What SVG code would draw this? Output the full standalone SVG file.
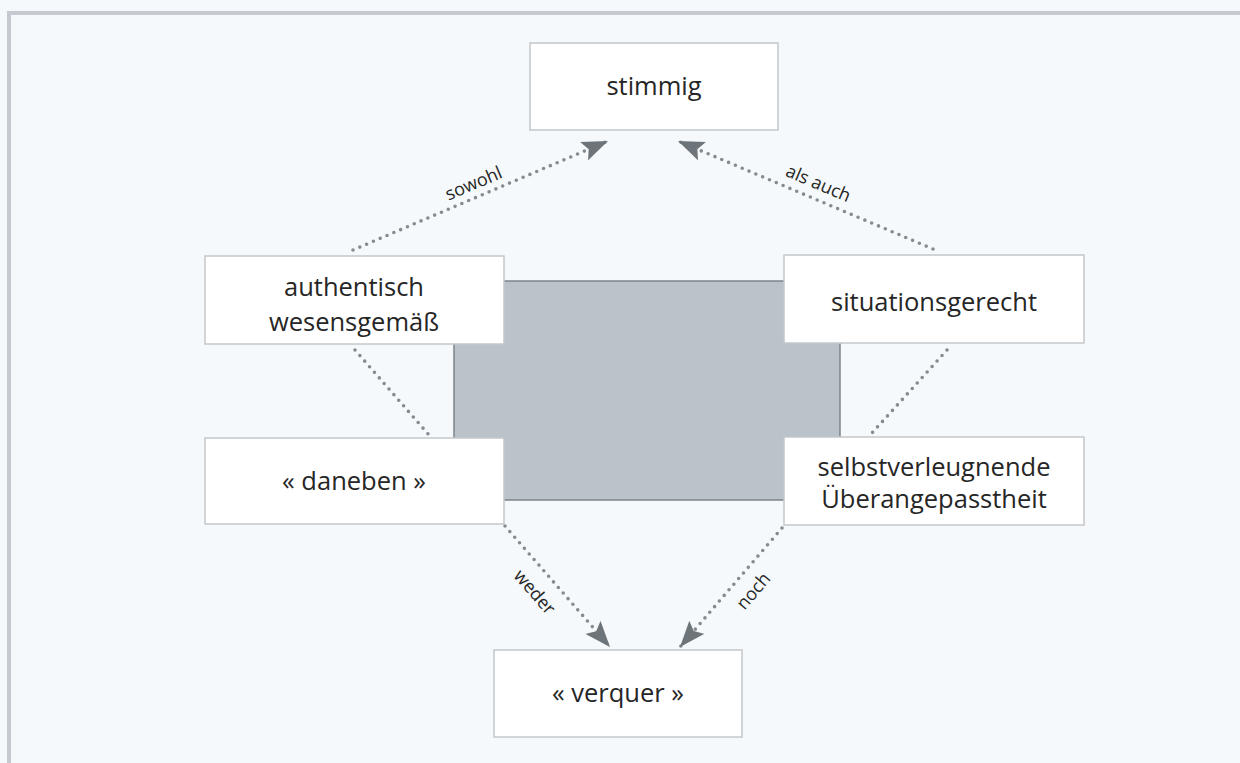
<svg xmlns="http://www.w3.org/2000/svg" width="1240" height="763" viewBox="0 0 1240 763">
<defs>
<style>
.box{fill:#ffffff;stroke:#c3c8cc;stroke-width:1.5}
.t{font-family:"Open Sans","Noto Sans","Liberation Sans",sans-serif;font-size:25.5px;fill:#262626;text-anchor:middle}
.lbl{font-family:"Open Sans","Noto Sans","Liberation Sans",sans-serif;font-size:18px;fill:#262626;text-anchor:middle}
.dot{fill:none;stroke:#858b90;stroke-width:3.6;stroke-linecap:round;stroke-dasharray:0 7.4}
</style>
<marker id="ah" viewBox="0 0 26 20" refX="26" refY="10" markerWidth="26" markerHeight="20" markerUnits="userSpaceOnUse" orient="auto">
<path d="M0,0 L26,10 L0,20 L5,10 Z" fill="#6e757a"/>
</marker>
</defs>
<rect x="0" y="0" width="1240" height="763" fill="#f5f9fb"/>
<path d="M9,763 L9,13 L1240,13" fill="none" stroke="#c4cad0" stroke-width="4"/>
<rect id="center-panel" x="454" y="281" width="386" height="219" fill="#bac3ca" stroke="#7d8489" stroke-width="1.5"/>
<g id="connectors">
<line class="dot" x1="353" y1="250" x2="608" y2="141" marker-end="url(#ah)"/>
<line class="dot" x1="933" y1="249" x2="678" y2="141" marker-end="url(#ah)"/>
<line class="dot" x1="355" y1="350" x2="429" y2="435"/>
<line class="dot" x1="947" y1="350" x2="872" y2="433"/>
<line class="dot" x1="505" y1="526" x2="610" y2="647" marker-end="url(#ah)"/>
<line class="dot" x1="782" y1="528" x2="680" y2="647" marker-end="url(#ah)"/>
<text class="lbl" transform="translate(476,189) rotate(-23)">sowohl</text>
<text class="lbl" transform="translate(816,189) rotate(23)">als auch</text>
<text class="lbl" transform="translate(530,596) rotate(49)">weder</text>
<text class="lbl" transform="translate(758,595) rotate(-49.5)">noch</text>
</g>
<g id="stimmig"><rect class="box" x="530" y="43" width="248" height="87"/><text class="t" x="654" y="95">stimmig</text></g>
<g id="authentisch"><rect class="box" x="205" y="256" width="299" height="88"/><text class="t" x="354" y="296">authentisch</text><text class="t" x="354" y="331">wesensgemäß</text></g>
<g id="situationsgerecht"><rect class="box" x="784" y="255" width="300" height="88"/><text class="t" x="934" y="311">situationsgerecht</text></g>
<g id="daneben"><rect class="box" x="205" y="438" width="299" height="86"/><text class="t" x="354" y="490">« daneben »</text></g>
<g id="selbstverleugnende"><rect class="box" x="784" y="437" width="300" height="88"/><text class="t" x="934" y="476">selbstverleugnende</text><text class="t" x="934" y="508">Überangepasstheit</text></g>
<g id="verquer"><rect class="box" x="494" y="650" width="248" height="87"/><text class="t" x="618" y="702">« verquer »</text></g>
</svg>
